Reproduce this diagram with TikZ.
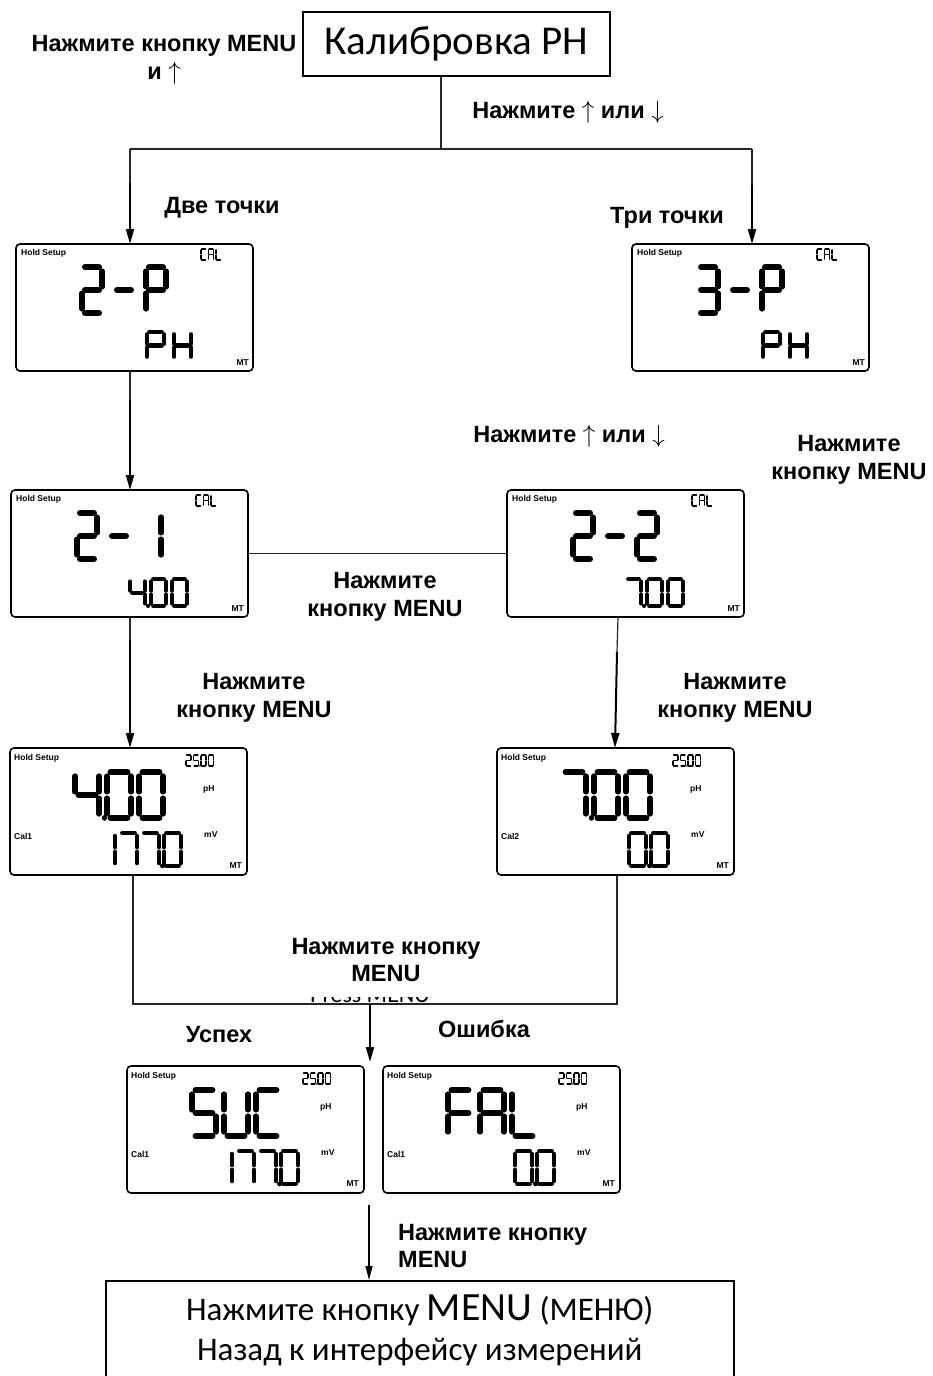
\documentclass[tikz,border=0pt]{standalone}
\usepackage{fontspec}
\setmainfont{Liberation Sans}
\newfontfamily\cali{Carlito}
\usetikzlibrary{arrows.meta,calc}
% seven-segment pieces in a unit cell (y downwards)
\expandafter\def\csname sga\endcsname{\draw (0.14,0) -- (0.86,0);}
\expandafter\def\csname sgb\endcsname{\draw (1,0.09) -- (1,0.43);}
\expandafter\def\csname sgc\endcsname{\draw (1,0.57) -- (1,0.91);}
\expandafter\def\csname sgd\endcsname{\draw (0.14,1) -- (0.86,1);}
\expandafter\def\csname sge\endcsname{\draw (0,0.57) -- (0,0.91);}
\expandafter\def\csname sgf\endcsname{\draw (0,0.09) -- (0,0.43);}
\expandafter\def\csname sgg\endcsname{\draw (0.14,0.5) -- (0.86,0.5);}
\expandafter\def\csname sgp\endcsname{\draw (1.22,0.995) -- (1.22,1);}
% glyphs
\expandafter\def\csname gl0\endcsname{a,b,c,d,e,f}
\expandafter\def\csname gl0p\endcsname{a,b,c,d,e,f,p}
\expandafter\def\csname gl1\endcsname{b,c}
\expandafter\def\csname gl2\endcsname{a,b,g,e,d}
\expandafter\def\csname gl3\endcsname{a,b,g,c,d}
\expandafter\def\csname gl4p\endcsname{f,g,b,c,p}
\expandafter\def\csname gl5p\endcsname{a,f,g,c,d,p}
\expandafter\def\csname gl7\endcsname{a,b,c}
\expandafter\def\csname gl7p\endcsname{a,b,c,p}
\expandafter\def\csname glP\endcsname{a,b,f,g,e}
\expandafter\def\csname glH\endcsname{f,e,b,c,g}
\expandafter\def\csname glS\endcsname{a,f,g,c,d}
\expandafter\def\csname glU\endcsname{f,e,d,c,b}
\expandafter\def\csname glC\endcsname{a,f,e,d}
\expandafter\def\csname glF\endcsname{a,f,g,e}
\expandafter\def\csname glA\endcsname{a,b,c,e,f,g}
\expandafter\def\csname glL\endcsname{f,e,d}
\expandafter\def\csname gl-\endcsname{g}
% x y w h linewidth advance glyphs
\newcommand\lcdstr[7]{%
  \foreach \g [count=\i from 0] in {#7}{%
    \begin{scope}[shift={({#1+\i*#6},#2)},xscale=#3,yscale=#4,line width=#5,line cap=round]
      \edef\segs{\csname gl\g\endcsname}%
      \foreach \s in \segs {\csname sg\s\endcsname}%
    \end{scope}}}
\begin{document}
\begin{tikzpicture}[x=1pt,y=-1pt,
  lbl/.style={font=\bfseries\fontsize{23.5}{27.5}\selectfont,align=center,inner sep=0pt},
  lcd/.style={draw,line width=1.6pt,rounded corners=4pt,minimum width=237pt,minimum height=127pt,inner sep=0pt,outer sep=0pt},
  lcdsm/.style={font=\bfseries\fontsize{8.5}{9}\selectfont,inner sep=0pt},
  conn/.style={draw=black!85,line width=1.2pt},
  arr/.style={line width=2pt,-{Triangle[length=15pt,width=8pt]}},
  arrthin/.style={line width=1.4pt,-{Triangle[length=14pt,width=7pt]}}]
\useasboundingbox (0,0) rectangle (932,1376);

% title
\node[draw,line width=1.5pt,minimum width=307pt,minimum height=64pt,inner sep=0pt,
  font=\cali\fontsize{41}{44}\selectfont] (title) at (456.5,44) {Калибровка PH};
\node[lbl] (lblMenuTop) at (164,60) {Нажмите кнопку MENU\\и $\uparrow$};
\node[lbl] (lblUD1) at (568,112) {Нажмите $\uparrow$ или $\downarrow$};
\node[lbl] (lblTwo) at (222,208) {Две точки};
\node[lbl] (lblThree) at (667,218) {Три точки};
\node[lbl] (lblUD2) at (569,436) {Нажмите $\uparrow$ или $\downarrow$};
\node[lbl] (lblMenuR) at (849,460) {Нажмите\\кнопку MENU};
\node[lbl] (lblMenuMid) at (385,597) {Нажмите\\кнопку MENU};
\node[lbl] (lblMenuL2) at (254,698) {Нажмите\\кнопку MENU};
\node[lbl] (lblMenuR2) at (735,698) {Нажмите\\кнопку MENU};
\node[lbl] (lblOk) at (219,1035) {Успех};
\node[lbl] (lblErr) at (484,1029) {Ошибка};
\node[lbl,align=left,anchor=west] (lblMenuLast) at (398,1246) {Нажмите кнопку\\MENU};

% LCD type A
\node[lcd] (d2p) at (134.5,307.5) {};
\begin{scope}[shift={(d2p.north west)}]
  \node[lcdsm,anchor=west] (d2pHold) at (5,9) {Hold Setup};
  \lcdstr{185}{5}{5}{11}{1.8}{7.5}{C,A,L}
  \lcdstr{66}{23}{20}{46}{5.5}{32}{2,-,P}
  \lcdstr{131}{88}{17}{27}{4.5}{27}{P,H}
  \node[lcdsm,anchor=east] (d2pMT) at (233,119) {MT};
\end{scope}
\node[lcd] (d3p) at (750.5,307.5) {};
\begin{scope}[shift={(d3p.north west)}]
  \node[lcdsm,anchor=west] (d3pHold) at (5,9) {Hold Setup};
  \lcdstr{185}{5}{5}{11}{1.8}{7.5}{C,A,L}
  \lcdstr{66}{23}{20}{46}{5.5}{32}{3,-,P}
  \lcdstr{131}{88}{17}{27}{4.5}{27}{P,H}
  \node[lcdsm,anchor=east] (d3pMT) at (233,119) {MT};
\end{scope}
\node[lcd] (d21) at (129.5,553.5) {};
\begin{scope}[shift={(d21.north west)}]
  \node[lcdsm,anchor=west] (d21Hold) at (5,9) {Hold Setup};
  \lcdstr{185}{5}{5}{11}{1.8}{7.5}{C,A,L}
  \lcdstr{66}{23}{20}{46}{5.5}{32}{2,-,1}
  \lcdstr{119}{89}{15}{27}{4}{21}{4p,0,0}
  \node[lcdsm,anchor=east] (d21MT) at (233,119) {MT};
\end{scope}
\node[lcd] (d22) at (625.5,553.5) {};
\begin{scope}[shift={(d22.north west)}]
  \node[lcdsm,anchor=west] (d22Hold) at (5,9) {Hold Setup};
  \lcdstr{185}{5}{5}{11}{1.8}{7.5}{C,A,L}
  \lcdstr{66}{23}{20}{46}{5.5}{32}{2,-,2}
  \lcdstr{119}{89}{15}{27}{4}{21}{7p,0,0}
  \node[lcdsm,anchor=east] (d22MT) at (233,119) {MT};
\end{scope}

% LCD type B
\node[lcd] (d4) at (128.5,811.5) {};
\begin{scope}[shift={(d4.north west)}]
  \node[lcdsm,anchor=west] (d4Hold) at (4,10) {Hold Setup};
  \lcdstr{176}{7}{5}{11}{1.8}{7.5}{2,5p,0,0}
  \lcdstr{65}{24}{24}{46}{5.5}{32}{4p,0,0}
  \node[lcdsm,anchor=west] (d4pH) at (193,41) {pH};
  \node[lcdsm,anchor=west] (d4Cal) at (4,88) {Cal1};
  \node[lcdsm,anchor=west] (d4mV) at (194,87) {mV};
  \lcdstr{88}{85}{17}{33}{4.5}{22}{1,7,7p,0}
  \node[lcdsm,anchor=east] (d4MT) at (232,118) {MT};
\end{scope}
\node[lcd] (d7) at (615.5,811.5) {};
\begin{scope}[shift={(d7.north west)}]
  \node[lcdsm,anchor=west] (d7Hold) at (4,10) {Hold Setup};
  \lcdstr{176}{7}{5}{11}{1.8}{7.5}{2,5p,0,0}
  \lcdstr{65}{24}{24}{46}{5.5}{32}{7p,0,0}
  \node[lcdsm,anchor=west] (d7pH) at (193,41) {pH};
  \node[lcdsm,anchor=west] (d7Cal) at (4,88) {Cal2};
  \node[lcdsm,anchor=west] (d7mV) at (194,87) {mV};
  \lcdstr{132}{85}{17}{33}{4.5}{22}{0p,0}
  \node[lcdsm,anchor=east] (d7MT) at (232,118) {MT};
\end{scope}
\node[lcd] (dsuc) at (245.5,1129.5) {};
\begin{scope}[shift={(dsuc.north west)}]
  \node[lcdsm,anchor=west] (dsucHold) at (4,10) {Hold Setup};
  \lcdstr{176}{7}{5}{11}{1.8}{7.5}{2,5p,0,0}
  \lcdstr{65}{24}{24}{46}{5.5}{32}{S,U,C}
  \node[lcdsm,anchor=west] (dsucpH) at (193,41) {pH};
  \node[lcdsm,anchor=west] (dsucCal) at (4,88) {Cal1};
  \node[lcdsm,anchor=west] (dsucmV) at (194,87) {mV};
  \lcdstr{88}{85}{17}{33}{4.5}{22}{1,7,7p,0}
  \node[lcdsm,anchor=east] (dsucMT) at (232,118) {MT};
\end{scope}
\node[lcd] (dfal) at (501.5,1129.5) {};
\begin{scope}[shift={(dfal.north west)}]
  \node[lcdsm,anchor=west] (dfalHold) at (4,10) {Hold Setup};
  \lcdstr{176}{7}{5}{11}{1.8}{7.5}{2,5p,0,0}
  \lcdstr{65}{24}{24}{46}{5.5}{32}{F,A,L}
  \node[lcdsm,anchor=west] (dfalpH) at (193,41) {pH};
  \node[lcdsm,anchor=west] (dfalCal) at (4,88) {Cal1};
  \node[lcdsm,anchor=west] (dfalmV) at (194,87) {mV};
  \lcdstr{132}{85}{17}{33}{4.5}{22}{0p,0}
  \node[lcdsm,anchor=east] (dfalMT) at (232,118) {MT};
\end{scope}

% final box
\node[draw,line width=1.6pt,minimum width=628pt,minimum height=100pt,anchor=north west,inner sep=0pt,
  align=center,font=\cali\fontsize{33}{40}\selectfont] (final) at (105,1280)
  {Нажмите кнопку {\fontsize{40}{40}\selectfont MENU} (МЕНЮ)\\Назад к интерфейсу измерений};

% half-hidden text
\begin{scope}
  \clip (280,997) rectangle (460,1003);
  \node[font=\cali\fontsize{24}{26}\selectfont,anchor=base,inner sep=0pt] (pressOld) at (370,1002) {Press MENU};
\end{scope}

% connectors
\coordinate (j1) at (441,149);
\coordinate (jL) at (130,149);
\coordinate (jR) at (752,149);
\coordinate (aLm) at (130,183);
\coordinate (aL) at (130,244);
\coordinate (aRm) at (752,185);
\coordinate (aR) at (752,244);
\draw[conn] (title.south -| j1) -- (j1);
\draw[conn] (jL) -- (jR);
\draw[conn] (jL) -- (aLm);
\draw[arr] (aLm) -- (aL);
\draw[conn] (jR) -- (aRm);
\draw[arr] (aRm) -- (aR);

\coordinate (b1) at (130,371);
\coordinate (b1m) at (130,400);
\coordinate (b2) at (130,490);
\draw[conn] (b1) -- (b1m);
\draw[arr] (b1m) -- (b2);
\draw[conn] (d21.east) -- (d22.west);

\coordinate (c1) at (130,617);
\coordinate (c1m) at (130,640);
\coordinate (c2) at (130,748);
\draw[conn] (c1) -- (c1m);
\draw[arr] (c1m) -- (c2);

\coordinate (e1) at (618,617);
\coordinate (e1m) at (617,652);
\coordinate (e2) at (615,748);
\draw[conn] (e1) -- (e1m);
\draw[arr] (e1m) -- (e2);

\coordinate (f1) at (133,875);
\coordinate (f2) at (133,1004);
\coordinate (f3) at (617,1004);
\coordinate (f4) at (617,875);
\draw[conn] (f1) -- (f2) -- (f3) -- (f4);
\node[lbl] (lblMenuBot) at (386,960) {Нажмите кнопку\\MENU};

\coordinate (g1) at (370,1004);
\coordinate (g2) at (370,1062);
\draw[arr] (g1) -- (g2);

\coordinate (h1) at (369,1205);
\coordinate (h2) at (369,1280);
\draw[arrthin] (h1) -- (h2);
\end{tikzpicture}
\end{document}
